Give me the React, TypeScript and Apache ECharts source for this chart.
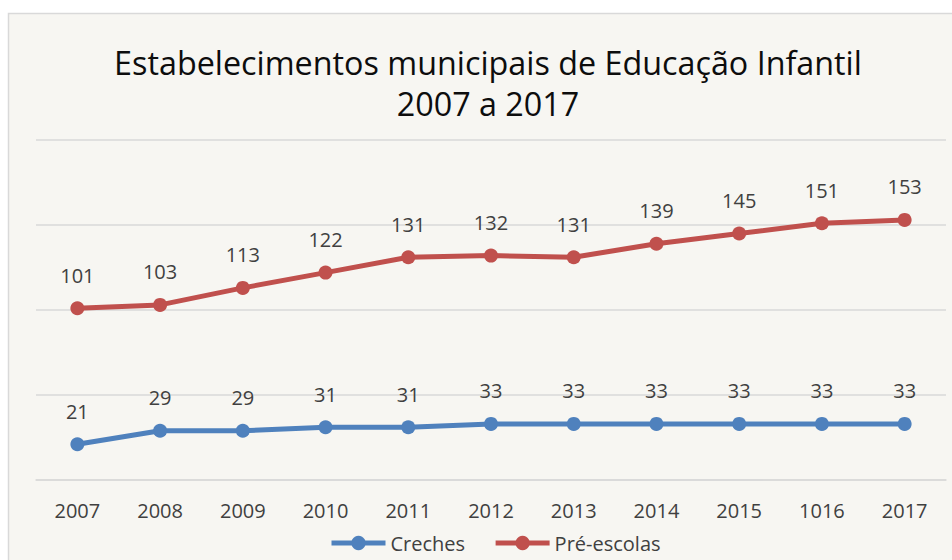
import React, { useEffect, useRef } from "react";
import * as echarts from "echarts";

const categories = ["2007", "2008", "2009", "2010", "2011", "2012", "2013", "2014", "2015", "1016", "2017"];
const creches = [21, 29, 29, 31, 31, 33, 33, 33, 33, 33, 33];
const preEscolas = [101, 103, 113, 122, 131, 132, 131, 139, 145, 151, 153];
const seriesNames = ["Creches", "Pré-escolas"];
const titleLines = ["Estabelecimentos municipais de Educação Infantil", "2007 a 2017"];

const FONT = "'Open Sans', sans-serif";

export default function App() {
  const ref = useRef<HTMLDivElement>(null);
  useEffect(() => {
    if (!ref.current) return;
    const chart = echarts.init(ref.current, null, { renderer: "svg" });
    const labelStyle = {
      show: true,
      position: "top" as const,
      distance: 16,
      color: "#404040",
      fontSize: 20,
      fontFamily: FONT,
    };
    chart.setOption({
      animation: false,
      backgroundColor: "#ffffff",
      graphic: [
        {
          type: "rect",
          z: -10,
          silent: true,
          shape: { x: 8.5, y: 13.5, width: 970, height: 570 },
          style: { fill: "#f7f6f2", stroke: "#d9d9d9", lineWidth: 1.5 },
        },
        {
          type: "text",
          x: 488,
          y: 62,
          style: {
            text: titleLines[0],
            fontSize: 32.3,
            fontFamily: FONT,
            fill: "#0d0d0d",
            align: "center",
            verticalAlign: "middle",
          },
        },
        {
          type: "text",
          x: 488,
          y: 103,
          style: {
            text: titleLines[1],
            fontSize: 32.3,
            fontFamily: FONT,
            fill: "#0d0d0d",
            align: "center",
            verticalAlign: "middle",
          },
        },
      ],
      grid: { left: 36, right: 6, top: 140, bottom: 80, containLabel: false },
      legend: {
        bottom: 2,
        left: 324,
        itemWidth: 54,
        itemHeight: 18,
        itemGap: 28,
        lineStyle: { width: 5 },
        textStyle: { color: "#404040", fontSize: 20, fontFamily: FONT },
        data: seriesNames,
      },
      xAxis: {
        type: "category",
        data: categories,
        boundaryGap: true,
        axisLine: { show: true, lineStyle: { color: "#d9d9d9", width: 1.5 } },
        axisTick: { show: false },
        axisLabel: { color: "#404040", fontSize: 20, fontFamily: FONT, margin: 20 },
      },
      yAxis: {
        type: "value",
        min: 0,
        max: 200,
        interval: 50,
        axisLabel: { show: false },
        axisLine: { show: false },
        axisTick: { show: false },
        splitLine: { lineStyle: { color: "#d9d9d9", width: 1.5 } },
      },
      series: [
        {
          name: seriesNames[0],
          type: "line",
          data: creches,
          symbol: "circle",
          symbolSize: 14,
          lineStyle: { color: "#4f81bd", width: 5 },
          itemStyle: { color: "#4f81bd" },
          label: labelStyle,
        },
        {
          name: seriesNames[1],
          type: "line",
          data: preEscolas,
          symbol: "circle",
          symbolSize: 14,
          lineStyle: { color: "#c0504d", width: 5 },
          itemStyle: { color: "#c0504d" },
          label: labelStyle,
        },
      ],
    });
    return () => chart.dispose();
  }, []);
  return (
    <div
      ref={ref}
      style={{ position: "absolute", left: 0, top: 0, width: 952, height: 560 }}
    />
  );
}
